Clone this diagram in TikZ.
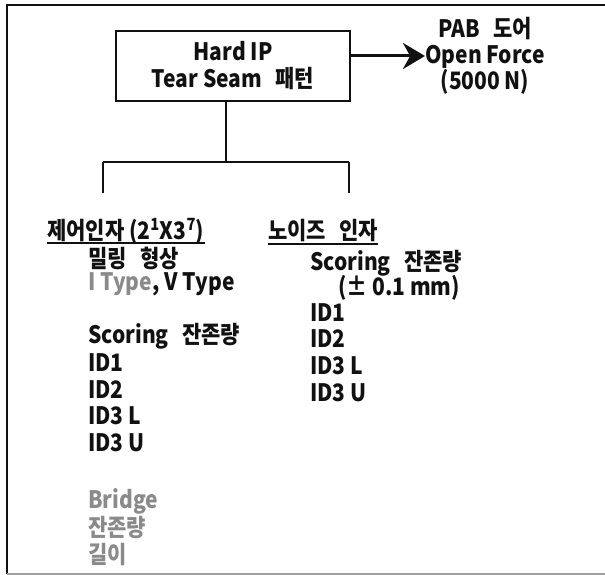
\documentclass[tikz,border=0pt]{standalone}
\usepackage{fontspec}
\setmainfont{Noto Sans CJK KR}[FakeStretch=0.875]
\usetikzlibrary{arrows.meta,positioning}
\definecolor{ink}{HTML}{111111}
\definecolor{midgray}{HTML}{8A8A8A}
\definecolor{linegray}{HTML}{A0A0A0}
\newcommand{\ksp}{\hspace{0.55em}}
\tikzset{
  frameline/.style={draw=ink,line width=1.6pt},
  framegray/.style={draw=linegray,line width=1.2pt},
  patternbox/.style={draw=ink,line width=1.8pt,minimum width=234pt,minimum height=70pt,font=\bfseries\fontsize{24}{27}\selectfont,align=center,inner sep=0pt,text=ink},
  forcelabel/.style={font=\bfseries\fontsize{24}{26}\selectfont,align=center,inner sep=0pt,text=ink},
  factorhead/.style={font=\bfseries\fontsize{24}{26}\selectfont,anchor=west,inner sep=0pt,text=ink},
  item/.style={font=\bfseries\fontsize{24}{26}\selectfont,anchor=west,inner sep=0pt,text=ink},
  grayitem/.style={item,text=midgray},
  link/.style={draw=ink,line width=1.4pt},
  headrule/.style={draw=ink,line width=1.5pt},
  pusharr/.style={-{Stealth[length=22pt,width=26pt]},draw=ink,line width=3pt}
}

\begin{document}
\begin{tikzpicture}[x=1pt,y=-1pt]
\path[use as bounding box] (0,0) rectangle (605,575);
\draw[frameline] (605,5)--(7,5)--(7,574);
\draw[framegray] (7,574)--(605,574);
\node[patternbox] (tear) at (233,66) {Hard IP\\Tear Seam\ksp 패턴};
\node[forcelabel] (force) at (485,56) {PAB\ksp 도어\\Open Force\\(5000 N)};
\draw[pusharr] (tear.east |- force.west)--(force.west);
\coordinate (fork) at (226,162);
\coordinate (ctrltop) at (103,162);
\coordinate (noisetop) at (349,162);
\draw[link] (tear.south -| fork)--(fork);
\draw[link] (ctrltop)--(noisetop);
\draw[link] (ctrltop)--++(0,31);
\draw[link] (noisetop)--++(0,31);
\node[factorhead] (ctrlhead) at (47,231) {제어인자 (2\textsuperscript{1}X3\textsuperscript{7})};
\node[factorhead] (noisehead) at (268,231) {노이즈\ksp 인자};
\draw[headrule] ([yshift=-4pt]ctrlhead.base west)--([yshift=-4pt]ctrlhead.base east);
\draw[headrule] ([yshift=-4pt]noisehead.base west)--([yshift=-4pt]noisehead.base east);
% control factors
\foreach \n/\y/\txt in {1/258/{밀링\ksp 형상},2/284/{{\color{midgray}I Type}, V Type},3/336/{Scoring\ksp 잔존량},4/363/ID1,5/390/ID2,6/416/ID3 L,7/443/ID3 U}
  \node[item] (ctrl\n) at (88,\y) {\txt};
\foreach \n/\y/\txt in {1/501/Bridge,2/528/잔존량,3/555/길이}
  \node[grayitem] (bridge\n) at (88,\y) {\txt};
% noise factors
\node[item] (noise1) at (310,263) {Scoring\ksp 잔존량};
\node[item] (noise2) at (338,288) {(± 0.1 mm)};
\foreach \n/\y/\txt in {3/313/ID1,4/339/ID2,5/366/ID3 L,6/393/ID3 U}
  \node[item] (noise\n) at (310,\y) {\txt};
\end{tikzpicture}
\end{document}
